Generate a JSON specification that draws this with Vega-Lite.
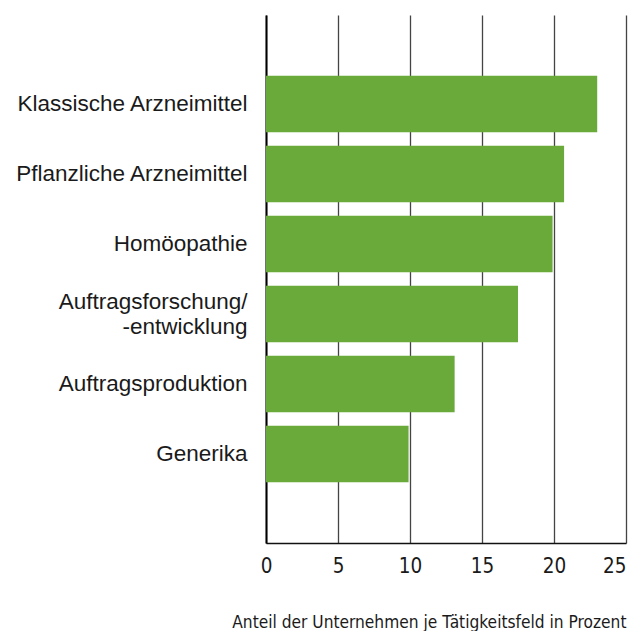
{
  "$schema": "https://vega.github.io/schema/vega-lite/v6.json",
  "autosize": "none",
  "width": 360,
  "height": 528,
  "padding": {"left": 266, "top": 15, "right": 4, "bottom": 88},
  "background": "white",
  "config": {"view": {"stroke": null}},
  "data": {
    "values": [
      {"feld": "Klassische Arzneimittel", "anteil": 23.0},
      {"feld": "Pflanzliche Arzneimittel", "anteil": 20.7},
      {"feld": "Homöopathie", "anteil": 19.9},
      {"feld": "Auftragsforschung/-entwicklung", "anteil": 17.5},
      {"feld": "Auftragsproduktion", "anteil": 13.1},
      {"feld": "Generika", "anteil": 9.9}
    ]
  },
  "mark": {"type": "bar", "color": "#6aaa3b"},
  "encoding": {
    "y": {
      "field": "feld",
      "type": "nominal",
      "sort": null,
      "scale": {"paddingInner": 0.19, "paddingOuter": 0.866},
      "axis": {
        "title": null,
        "ticks": false,
        "domain": true,
        "domainColor": "#000000",
        "domainWidth": 2,
        "labelFont": "Liberation Sans",
        "labelFontSize": 22.5,
        "labelColor": "#1a1a1a",
        "labelPadding": 19,
        "labelLineHeight": 25,
        "labelLimit": 0,
        "labelOffset": {"condition": {"test": "datum.value == 'Auftragsforschung/-entwicklung'", "value": -12}, "value": 0},
        "labelExpr": "datum.value == 'Auftragsforschung/-entwicklung' ? ['Auftragsforschung/', '-entwicklung'] : datum.value"
      }
    },
    "x": {
      "field": "anteil",
      "type": "quantitative",
      "scale": {"domain": [0, 25], "nice": false},
      "axis": {
        "values": [0, 5, 10, 15, 20, 25],
        "grid": true,
        "gridColor": "#444444",
        "gridWidth": 1.3,
        "ticks": false,
        "domain": true,
        "domainColor": "#111111",
        "domainWidth": 1.5,
        "labelFont": "DejaVu Sans Condensed, Arial Narrow, Roboto Condensed, Roboto, sans-serif",
        "labelFontSize": 20.5,
        "labelColor": "#1a1a1a",
        "labelPadding": 13,
        "labelFlush": false,
        "labelAlign": {"condition": {"test": "datum.value == 25", "value": "right"}, "value": "center"},
        "title": "Anteil der Unternehmen je Tätigkeitsfeld in Prozent",
        "titleFont": "DejaVu Sans Condensed, Arial Narrow, Roboto Condensed, Roboto, sans-serif",
        "titleFontSize": 17.2,
        "titleFontWeight": "normal",
        "titleColor": "#1a1a1a",
        "titleAnchor": "end",
        "titleAlign": "right",
        "titleBaseline": "alphabetic",
        "titleY": 84
      }
    }
  }
}
